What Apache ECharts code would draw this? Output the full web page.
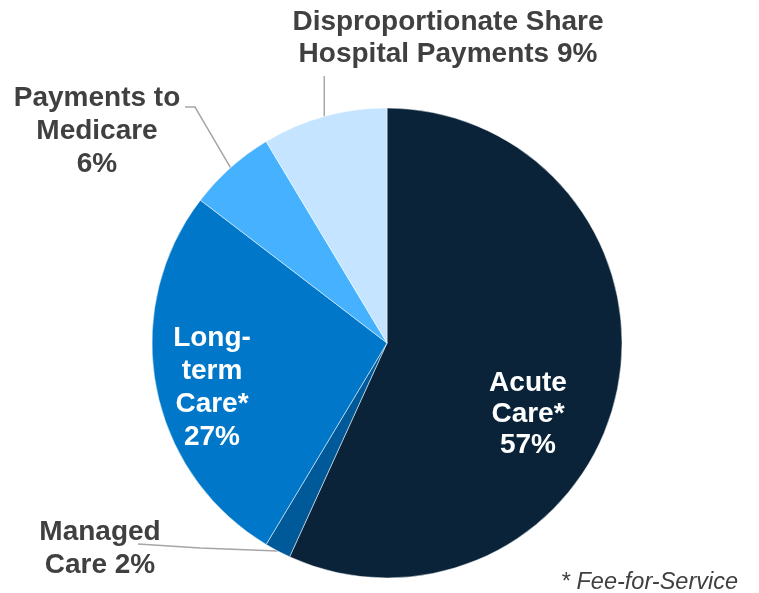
<!DOCTYPE html>
<html>
<head>
<meta charset="utf-8">
<script src="https://cdn.jsdelivr.net/npm/echarts@6/dist/echarts.min.js"></script>
<style>html,body{margin:0;padding:0;background:#fff}#c{width:759px;height:593px}</style>
</head>
<body>
<div id="c"></div>
<script>
const categories = ['Acute Care*', 'Managed Care', 'Long-term Care*', 'Payments to Medicare', 'Disproportionate Share Hospital Payments'];
const labelText = ['Acute\nCare*', 'Managed\nCare', 'Long-\nterm\nCare*', 'Payments to\nMedicare', 'Disproportionate Share\nHospital Payments'];
const pctSep = ['\n', ' ', '\n', '\n', ' '];
const values = [56.8, 1.8, 26.8, 6.0, 8.6];
const colors = ['#0a2339', '#005a9a', '#0077c8', '#45b1ff', '#c4e4ff'];
const footnote = '* Fee-for-Service';

const chart = echarts.init(document.getElementById('c'), null, {renderer: 'canvas'});
const inside = [true, false, true, false, false];
const lineHeights = [31, 33, 33, 33, 32];
const labelPos = [[528, 414], [100, 549], [212, 388], [97, 131], [448, 38]];

const data = categories.map((n, i) => ({
  name: n,
  value: values[i],
  itemStyle: {color: colors[i]},
  label: {
    color: inside[i] ? '#ffffff' : '#404040',
    lineHeight: lineHeights[i]
  },
  labelLine: {show: !inside[i]}
}));

chart.setOption({
  animation: false,
  title: {
    text: footnote,
    right: 16,
    top: 566,
    textStyle: {fontFamily: 'Liberation Sans', fontStyle: 'italic', fontWeight: 'normal', fontSize: 23.5, color: '#404040'}
  },
  series: [{
    type: 'pie',
    center: [387, 343],
    radius: 235,
    startAngle: 90,
    clockwise: true,
    avoidLabelOverlap: false,
    data: data,
    itemStyle: {borderColor: '#ffffff', borderWidth: 0.5},
    label: {
      show: true,
      position: 'outside',
      fontFamily: 'Liberation Sans',
      fontWeight: 'bold',
      fontSize: 28,
      align: 'center',
      overflow: 'none',
      formatter: p => labelText[p.dataIndex] + pctSep[p.dataIndex] + Math.round(p.value) + '%'
    },
    labelLine: {show: true, lineStyle: {color: '#a6a6a6', width: 1.5}, smooth: false},
    labelLayout: function (params) {
      const i = params.dataIndex;
      const res = {x: labelPos[i][0], y: labelPos[i][1], align: 'center', verticalAlign: 'middle'};
      const pts = params.labelLinePoints;
      if (pts && pts[0]) {
        const p0 = pts[0];
        if (i === 4) res.labelLinePoints = [[p0[0], p0[1]], [p0[0], 96], [p0[0], 76]];
        else if (i === 3) res.labelLinePoints = [[p0[0], p0[1]], [195, 107], [185, 107]];
        else if (i === 1) res.labelLinePoints = [[p0[0], p0[1]], [200, 548], [138, 544]];
      }
      return res;
    }
  }]
});
</script>
</body>
</html>
